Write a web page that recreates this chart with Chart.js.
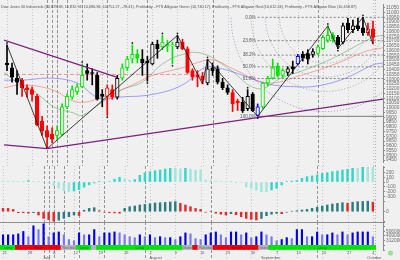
<!DOCTYPE html>
<html>
<head>
<meta charset="utf-8">
<script src="https://cdn.jsdelivr.net/npm/chart.js@4.4.1/dist/chart.umd.min.js"></script>
<style>
  html, body { margin: 0; padding: 0; background: #f0f0f0; }
  #wrap { position: relative; width: 400px; height: 260px; overflow: hidden; background: #f0f0f0; }
  #wrap canvas { position: absolute; left: 0; }
</style>
</head>
<body>
<div id="wrap">
  <canvas id="price" width="400" height="166" style="top:0px"></canvas>
  <canvas id="ao" width="400" height="34" style="top:166px"></canvas>
  <canvas id="ac" width="400" height="22" style="top:200px"></canvas>
  <canvas id="vol" width="400" height="23" style="top:222px"></canvas>
  <canvas id="sig" width="400" height="15" style="top:245px"></canvas>
</div>
<script>
// ---- data (one bar per trading day, 21 Jun - 4 Oct 2010) ----
const titleText = 'Dow Jones 30 Industrials (10,829.68, 10,832.94, 10,680.86, 10,751.27, -78.41), Profitunity - FTS Alligator Green (10,740.17), Profitunity - FTS Alligator Red (10,612.24), Profitunity - FTS Alligator Blue (10,458.87)';

const dayTicks = [0, 5, 10, 14, 19, 24, 29, 34, 39, 44, 49, 54, 58, 63, 68, 73];
const dayLabels = ['21', '28', '6', '12', '19', '26', '2', '9', '16', '23', '30', '7', '13', '20', '27', '4'];
const monthTicks = [8, 29, 51, 72];
const monthLabels = ['July', 'August', 'September', 'October'];
const markDays = [8, 9, 10, 12, 15, 20, 28, 41, 62];

const open = [10470, 10420, 10310, 10290, 10210, 10190, 10120, 9860, 9760, 9720,
  9710, 9720, 10010, 10110, 10170, 10220, 10390, 10370, 10340, 10140,
  10120, 10190, 10110, 10310, 10420, 10510, 10560, 10510, 10490, 10460,
  10670, 10640, 10650, 10650, 10640, 10690, 10620, 10390, 10340, 10330,
  10260, 10420, 10410, 10270, 10210, 10160, 10070, 10060, 9990, 10140,
  9920, 10010, 10260, 10310, 10440, 10340, 10370, 10430, 10460, 10560,
  10570, 10560, 10570, 10620, 10710, 10760, 10740, 10690, 10890, 10820,
  10860, 10840, 10790, 10830];
const high = [10660, 10470, 10390, 10310, 10240, 10220, 10140, 9910, 9810, 9790,
  9810, 10040, 10150, 10230, 10250, 10460, 10460, 10410, 10370, 10190,
  10240, 10240, 10340, 10460, 10540, 10660, 10610, 10610, 10540, 10690,
  10710, 10760, 10710, 10690, 10760, 10720, 10640, 10410, 10390, 10370,
  10510, 10470, 10440, 10310, 10240, 10190, 10090, 10110, 10190, 10160,
  10040, 10270, 10330, 10510, 10470, 10410, 10430, 10490, 10560, 10590,
  10610, 10620, 10660, 10760, 10860, 10790, 10760, 10890, 10940, 10920,
  10940, 10950, 10890, 10910];
const low = [10390, 10270, 10140, 10120, 10110, 10070, 9810, 9710, 9570, 9630,
  9670, 9710, 9990, 10090, 10140, 10210, 10290, 10240, 10080, 10010,
  9920, 10090, 10090, 10290, 10390, 10470, 10470, 10340, 10280, 10450,
  10520, 10610, 10590, 10460, 10620, 10610, 10360, 10290, 10220, 10250,
  10240, 10340, 10250, 10190, 10140, 9960, 9970, 9950, 9970, 9960,
  9910, 9990, 10230, 10300, 10320, 10320, 10340, 10360, 10450, 10490,
  10460, 10530, 10560, 10610, 10690, 10690, 10620, 10670, 10790, 10790,
  10810, 10760, 10760, 10670];
const close = [10450, 10320, 10270, 10210, 10190, 10140, 9820, 9760, 9690, 9670,
  9760, 10010, 10120, 10190, 10220, 10340, 10360, 10360, 10090, 10120,
  10210, 10110, 10310, 10420, 10510, 10560, 10520, 10470, 10470, 10670,
  10620, 10690, 10670, 10660, 10690, 10620, 10370, 10320, 10320, 10290,
  10410, 10390, 10270, 10210, 10160, 10040, 10050, 9970, 10120, 9970,
  10010, 10260, 10310, 10420, 10340, 10390, 10410, 10410, 10540, 10520,
  10510, 10590, 10640, 10740, 10760, 10720, 10660, 10860, 10820, 10860,
  10830, 10790, 10830, 10740];
// k black, g green, r red, b blue (Profitunity bar colouring)
const barColor = ['k', 'k', 'k', 'r', 'r', 'r', 'r', 'r', 'r', 'r',
  'g', 'g', 'g', 'g', 'g', 'g', 'k', 'k', 'k', 'k',
  'r', 'r', 'k', 'g', 'g', 'g', 'g', 'k', 'k', 'k',
  'k', 'g', 'g', 'g', 'k', 'r', 'r', 'r', 'r', 'r',
  'k', 'k', 'k', 'k', 'k', 'r', 'r', 'k', 'k', 'k',
  'b', 'g', 'g', 'g', 'g', 'g', 'k', 'k', 'b', 'k',
  'k', 'k', 'g', 'g', 'g', 'g', 'k', 'k', 'k', 'k',
  'k', 'k', 'r', 'r'];

// alligator lines (sampled where readable)
const jawDays = [-0.6, 3, 9, 14, 17, 19, 22, 29, 35, 39, 41, 46, 52, 58, 62, 67.5, 73, 75];
const jawVals = [10290, 10290, 10310, 10260, 10140, 10090, 10110, 10140, 10240, 10410, 10430, 10360, 10250, 10220, 10230, 10310, 10450, 10470];
const teethDays = [-0.6, 3, 9, 14, 19, 25, 29, 35, 39, 41.4, 45.8, 52, 58.6, 66, 71.4, 75];
const teethVals = [10210, 10240, 10190, 10060, 10110, 10240, 10340, 10420, 10490, 10500, 10390, 10260, 10340, 10470, 10590, 10630];
const lipsDays = [-0.6, 2, 5, 8, 10, 13, 15, 19, 23, 27, 31, 35, 39, 44, 50, 55, 59, 65, 73, 75];
const lipsVals = [10370, 10270, 10190, 10060, 9990, 9950, 9920, 10060, 10190, 10270, 10460, 10560, 10570, 10420, 10200, 10320, 10390, 10520, 10740, 10760];
const pinkDays = [-0.6, 39];
const pinkVals = [10350, 10350];

// drawing tools
const zigDays = [0, 8, 34, 39, 40, 50, 64, 66, 71, 73];
const zigVals = [10660, 9570, 10760, 10250, 10510, 9910, 10860, 10620, 10950, 10670];
const trendADays = [-0.6, 22], trendAVals = [10710, 10320];
const trendBDays = [-0.6, 8], trendBVals = [9610, 9570];
const trendCDays = [8, 75], trendCVals = [9570, 10090];
const fractalDays = [0, 15, 20, 25, 28, 31, 33, 34, 40, 48, 50, 64, 66, 71];
const fractalVals = [10680, 10480, 9900, 10680, 10260, 10780, 10440, 10780, 10530, 10210, 9890, 10880, 10600, 10970];
const fibStart = 50;
const fibLevels = [10950, 10705, 10553, 10430, 10307, 9910];
const fibLabels = ['0.0%', '23.6%', '38.2%', '50.0%', '61.8%', '100.0%'];
const arcCenter = [63.5, 10950];
const arcEnd = [50, 9910];
const arcRatios = [0.382, 0.5, 0.618, 0.786];

// oscillators and volume
const ao = [20, 15, 10, 10, 5, 30, 15, 10, -10, -20,
  -80, -130, -180, -200, -190, -160, -110, -60, -20, 10,
  5, 10, 60, 100, 60, 40, 50, 140, 190, 217,
  238, 252, 273, 287, 287, 273, 287, 273, 252, 250,
  40, 30, 20, 10, 10, 5, -5, -10, -98, -133,
  -168, -203, -203, -168, -133, -63, 10, 20, 30, 77,
  112, 126, 147, 182, 196, 217, 231, 252, 266, 287,
  287, 308, 308, 308];
const ac = [33, 33, 23, -10, -10, -15, -10, -33, -67, -80,
  -95, -85, -67, -50, -33, -38, 15, 33, 40, 10,
  -5, -10, -12, -15, 33, 50, 57, 67, 73, 80,
  87, 90, 93, 97, 100, 83, 67, 50, 33, 23,
  -5, 5, -15, -25, -33, -20, -30, -50, -67, -77,
  -83, -67, -40, -25, -17, -20, -5, 5, 10, 17,
  23, 33, 43, 57, 67, 77, 83, 90, 85, 95,
  100, 102, 105, 95];
const vol = [430000, 430000, 430000, 450000, 500000, 390000, 620000, 540000, 660000, 390000,
  470000, 490000, 430000, 330000, 305000, 470000, 430000, 430000, 540000, 390000,
  470000, 470000, 490000, 470000, 430000, 390000, 370000, 430000, 390000, 430000,
  370000, 390000, 370000, 370000, 330000, 390000, 470000, 450000, 350000, 330000,
  430000, 470000, 490000, 430000, 370000, 490000, 490000, 430000, 470000, 370000,
  390000, 490000, 430000, 390000, 305000, 330000, 370000, 350000, 540000, 540000,
  390000, 390000, 490000, 430000, 430000, 470000, 430000, 490000, 430000, 470000,
  490000, 490000, 490000, 390000];
const signal = ['L', 'L', 'L', 'S', 'S', 'S', 'S', 'S', 'S', 'S',
  'S', 'S', 'N', 'N', 'N', 'L', 'L', 'L', 'N', 'L',
  'L', 'L', 'L', 'L', 'L', 'L', 'L', 'L', 'L', 'L',
  'L', 'L', 'L', 'L', 'L', 'L', 'N', 'N', 'S', 'N',
  'N', 'N', 'S', 'S', 'S', 'S', 'S', 'S', 'S', 'S',
  'S', 'N', 'N', 'L', 'L', 'L', 'L', 'L', 'L', 'L',
  'L', 'L', 'L', 'L', 'L', 'L', 'L', 'L', 'L', 'L',
  'L', 'L', 'L', 'L'];
const signalNames = { L: 'Long', S: 'Short', N: 'Neutral' };

// ---- styling ----
const X_MIN = -0.6, X_MAX = 75;
const BG = '#f0f0f0';
const candleColors = { k: '#000000', g: '#00e600', r: '#ff0000', b: '#0000ff' };
const signalColors = { L: '#00e600', S: '#ee0000', N: '#b4b4b4' };
Chart.defaults.font.family = 'Liberation Sans';

const pts = (ds, vs) => ds.map((d, i) => ({ x: d, y: vs[i] }));

function lineDs(ds, vs, color, width, extra) {
  return Object.assign({
    type: 'line', data: pts(ds, vs), borderColor: color, borderWidth: width,
    pointRadius: 0, fill: false, tension: 0
  }, extra || {});
}

function yAxis(min, max, step, show) {
  return {
    position: 'right', min, max, beginAtZero: false,
    afterFit: s => { s.width = 17; s.paddingTop = 0; s.paddingBottom = 0; },
    border: { display: true, color: '#8a8a8a' },
    grid: { drawOnChartArea: false, drawTicks: true, tickLength: 2, color: '#8a8a8a' },
    ticks: {
      stepSize: step, autoSkip: false, includeBounds: false, padding: 1,
      color: '#6a6a6a', font: { size: 4.8 },
      display: !!show,
      callback: v => (show && show(v)) ? String(v) : ''
    }
  };
}

function baseOptions(y, padBottom) {
  return {
    responsive: false, animation: false, events: [],
    layout: { padding: { left: 0, right: 0, top: 0, bottom: padBottom || 0 } },
    plugins: { legend: { display: false }, tooltip: { enabled: false } },
    scales: {
      x: { type: 'linear', min: X_MIN, max: X_MAX, offset: false, display: false },
      y
    }
  };
}

// vertical week lines and marker lines through every panel
const vlines = {
  id: 'vlines',
  beforeDatasetsDraw(chart) {
    const { ctx, chartArea: a, scales: { x } } = chart;
    const draw = (days, color, dash) => {
      ctx.strokeStyle = color;
      ctx.setLineDash(dash);
      days.forEach(d => {
        const px = Math.round(x.getPixelForValue(d)) + 0.5;
        if (px < a.left || px > a.right) return;
        ctx.beginPath(); ctx.moveTo(px, 0); ctx.lineTo(px, chart.height); ctx.stroke();
      });
    };
    ctx.save();
    ctx.lineWidth = 1;
    draw(dayTicks, '#c8c8c8', [1, 2]);
    draw([73.4], '#b0b0b0', [1, 2]);
    draw(markDays, '#959595', [3, 2]);
    ctx.restore();
  }
};

const priceExtras = {
  id: 'priceExtras',
  beforeDatasetsDraw(chart) {
    const { ctx, chartArea: a, scales: { x, y } } = chart;
    const cx = x.getPixelForValue(arcCenter[0]), cy = y.getPixelForValue(arcCenter[1]);
    const r0 = Math.hypot(x.getPixelForValue(arcEnd[0]) - cx, y.getPixelForValue(arcEnd[1]) - cy);
    ctx.save();
    ctx.beginPath(); ctx.rect(a.left, a.top, a.width, a.height); ctx.clip();
    ctx.lineWidth = 1;
    ctx.setLineDash([1, 2]);
    arcRatios.forEach((r, i) => {
      ctx.strokeStyle = i % 2 ? 'rgba(125,105,170,0.7)' : 'rgba(135,135,135,0.7)';
      ctx.beginPath(); ctx.arc(cx, cy, r0 * r, 0, Math.PI); ctx.stroke();
    });
    ctx.restore();
  },
  afterDraw(chart) {
    const { ctx, scales: { x, y } } = chart;
    ctx.save();
    ctx.fillStyle = '#555';
    ctx.font = '4.6px "Liberation Sans"';
    ctx.textBaseline = 'middle';
    ctx.textAlign = 'right';
    const lx = x.getPixelForValue(fibStart) - 2;
    fibLevels.forEach((v, i) => ctx.fillText(fibLabels[i], lx, y.getPixelForValue(v)));
    ctx.textAlign = 'left';
    ctx.fillStyle = '#505050';
    ctx.font = '3.8px "Liberation Sans"';
    ctx.fillText(titleText, 1, 6.5, 356);
    ctx.restore();
  }
};

// ---- price panel ----
const priceDatasets = [
  lineDs(jawDays, jawVals, 'rgba(90,90,255,0.55)', 1, { tension: 0.4, order: 9 }),
  lineDs(teethDays, teethVals, 'rgba(255,90,90,0.5)', 1, { tension: 0.4, order: 9 }),
  lineDs(lipsDays, lipsVals, 'rgba(60,150,60,0.45)', 1, { tension: 0.4, order: 9 }),
  lineDs(pinkDays, pinkVals, 'rgba(240,110,110,0.7)', 1, { borderDash: [4, 2], order: 9 }),
  ...fibLevels.map((v, i) => lineDs([fibStart, X_MAX], [v, v],
    i === fibLevels.length - 1 ? '#7a7a7a' : 'rgba(110,110,110,0.85)', 1,
    { borderDash: i === fibLevels.length - 1 ? [] : [2, 2], order: 8 })),
  {
    type: 'bar', order: 5, grouped: false, barThickness: 1,
    data: high.map((h, i) => ({ x: i, y: [low[i], h] })),
    backgroundColor: barColor.map(c => candleColors[c])
  },
  {
    type: 'bar', order: 4, grouped: false, barThickness: 3.6, borderWidth: 1, borderSkipped: false,
    data: open.map((o, i) => ({ x: i, y: [o, close[i]] })),
    backgroundColor: open.map((o, i) => close[i] > o ? BG : candleColors[barColor[i]]),
    borderColor: barColor.map(c => candleColors[c])
  },
  lineDs(trendADays, trendAVals, '#7d1f7d', 1.3, { order: 2 }),
  lineDs(trendBDays, trendBVals, '#7d1f7d', 1.3, { order: 2 }),
  lineDs(trendCDays, trendCVals, '#7d1f7d', 1.3, { order: 2 }),
  lineDs(zigDays, zigVals, '#111111', 0.8, { order: 2 }),
  {
    type: 'line', order: 1, showLine: false, data: pts(fractalDays, fractalVals),
    pointRadius: 0.9, pointBorderWidth: 0, pointBackgroundColor: '#222'
  }
];

new Chart(document.getElementById('price'), {
  type: 'bar',
  data: { datasets: priceDatasets },
  options: baseOptions(yAxis(9430, 11090, 50, v => v % 50 === 0)),
  plugins: [vlines, priceExtras]
});

// ---- awesome oscillator ----
new Chart(document.getElementById('ao'), {
  type: 'bar',
  data: {
    datasets: [{
      data: ao.map((v, i) => ({ x: i, y: v })), grouped: false, barThickness: 1.8,
      backgroundColor: ao.map((v, i) => i > 0 && v > ao[i - 1] ? '#34d6c8' : '#a3e5dd')
    }]
  },
  options: baseOptions(yAxis(-378, 336, 100, v => v >= -300 && v <= 200)),
  plugins: [vlines]
});

// ---- accelerator oscillator ----
new Chart(document.getElementById('ac'), {
  type: 'bar',
  data: {
    datasets: [{
      data: ac.map((v, i) => ({ x: i, y: v })), grouped: false, barThickness: 1.8,
      backgroundColor: ac.map((v, i) => i > 0 && v > ac[i - 1] ? '#2b7d7d' : '#e82828')
    }]
  },
  options: baseOptions(yAxis(-103, 117, 100, v => v === 0)),
  plugins: [vlines]
});

// ---- volume ----
const volTopLine = {
  id: 'volTopLine',
  afterDraw(chart) {
    const { ctx, chartArea: a } = chart;
    ctx.save();
    ctx.strokeStyle = '#8f8f8f';
    ctx.lineWidth = 1;
    ctx.beginPath(); ctx.moveTo(0, 0.5); ctx.lineTo(a.right, 0.5); ctx.stroke();
    ctx.restore();
  }
};
new Chart(document.getElementById('vol'), {
  type: 'bar',
  data: {
    datasets: [{
      data: vol.map((v, i) => ({ x: i, y: v })), grouped: false, barThickness: 1.5,
      backgroundColor: vol.map((v, i) => i > 0 && v < vol[i - 1] ? '#7878f4' : '#0000f0')
    }]
  },
  options: baseOptions(yAxis(215000, 700000, 100000, v => v >= 300000 && v <= 600000)),
  plugins: [vlines, volTopLine]
});

// ---- signal strip and date axis ----
const sigLabels = {
  id: 'sigLabels',
  afterDraw(chart) {
    const { ctx, chartArea: a, scales: { x } } = chart;
    ctx.save();
    ctx.font = '4px "Liberation Sans"';
    ctx.textBaseline = 'middle';
    ctx.textAlign = 'center';
    ctx.fillStyle = 'rgba(0,0,0,0.42)';
    let s = 0;
    for (let i = 1; i <= signal.length; i++) {
      if (i === signal.length || signal[i] !== signal[s]) {
        const x0 = x.getPixelForValue(s - 0.5), x1 = Math.min(x.getPixelForValue(i - 0.5), a.right);
        if (x1 - x0 > 9) ctx.fillText(signalNames[signal[s]], (x0 + x1) / 2, (a.top + a.bottom) / 2 + 0.3, x1 - x0 - 1);
        s = i;
      }
    }
    ctx.textAlign = 'left';
    ctx.fillStyle = '#5e5e5e';
    dayTicks.forEach((d, i) => ctx.fillText(dayLabels[i], x.getPixelForValue(d) - 0.5, a.bottom + 2.6));
    monthTicks.forEach((d, i) => ctx.fillText(monthLabels[i], x.getPixelForValue(d) - 0.5, a.bottom + 8));
    ctx.fillStyle = 'rgba(90,205,90,0.55)';
    ctx.beginPath(); ctx.arc(390.5, 8, 2.6, 0, Math.PI * 2); ctx.fill();
    ctx.restore();
  }
};
new Chart(document.getElementById('sig'), {
  type: 'bar',
  data: {
    datasets: [{
      data: signal.map((s, i) => ({ x: i, y: 1 })), grouped: false, barThickness: 5.6,
      borderWidth: 0, backgroundColor: signal.map(s => signalColors[s])
    }]
  },
  options: baseOptions(yAxis(0, 1, 1, null), 10),
  plugins: [vlines, sigLabels]
});
</script>
</body>
</html>
